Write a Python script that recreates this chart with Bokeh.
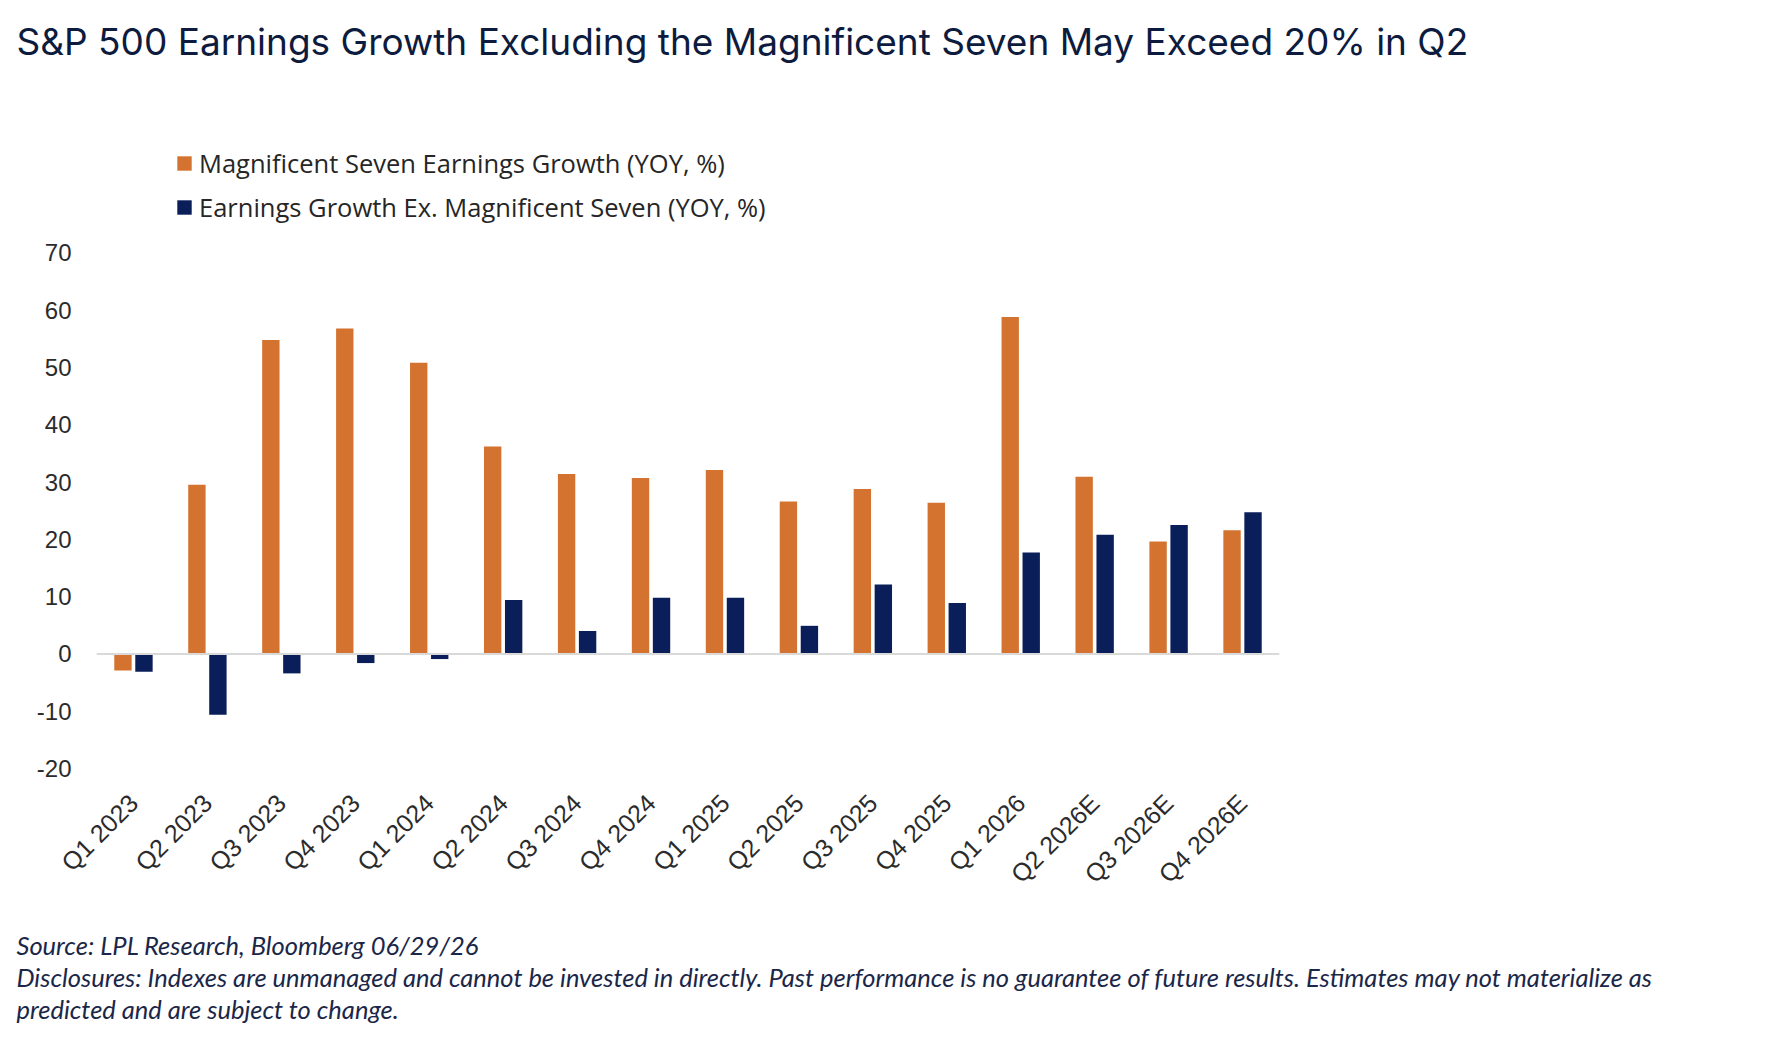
import math

from bokeh.embed import file_html
from bokeh.models import (ColumnDataSource, FactorRange, FixedTicker,
                          Legend, LegendItem, Range1d, Span, Title)
from bokeh.plotting import figure
from bokeh.resources import INLINE
from bokeh.transform import dodge

# ---- data -----------------------------------------------------------------
quarters = ["Q1 2023", "Q2 2023", "Q3 2023", "Q4 2023",
            "Q1 2024", "Q2 2024", "Q3 2024", "Q4 2024",
            "Q1 2025", "Q2 2025", "Q3 2025", "Q4 2025",
            "Q1 2026", "Q2 2026E", "Q3 2026E", "Q4 2026E"]

# Magnificent Seven earnings growth, YoY %
mag7_growth = [-2.9, 29.5, 54.8, 56.8, 50.8, 36.2, 31.4, 30.7,
               32.1, 26.6, 28.8, 26.4, 58.8, 30.9, 19.6, 21.6]

# S&P 500 earnings growth excluding the Magnificent Seven, YoY %
ex_mag7_growth = [-3.1, -10.6, -3.4, -1.6, -0.9, 9.4, 4.0, 9.8,
                  9.8, 4.9, 12.1, 8.9, 17.7, 20.8, 22.5, 24.7]

y_ticks = [-20, -10, 0, 10, 20, 30, 40, 50, 60, 70]
y_tick_labels = {t: str(t) for t in y_ticks}   # plain hyphen for negatives

series_labels = ["Magnificent Seven Earnings Growth (YOY, %)",
                 "Earnings Growth Ex. Magnificent Seven (YOY, %)"]

title_text = "S&P 500 Earnings Growth Excluding the Magnificent Seven May Exceed 20% in Q2"
notes = [
    "Source: LPL Research, Bloomberg 06/29/26",
    "Disclosures: Indexes are unmanaged and cannot be invested in directly. Past performance is no guarantee of future results. Estimates may not materialize as",
    "predicted and are subject to change.",
]

# ---- styling --------------------------------------------------------------
ORANGE = "#D47330"
NAVY = "#0A1E5A"
INK = "#0D1B3E"
AXIS_TEXT = "#2B2B2B"

W, H = 1778, 1052
FRAME_LEFT, FRAME_RIGHT = 96, 1279
FRAME_TOP, FRAME_BOTTOM = 120, 768
PX_PER_UNIT = 515.7 / 90.0          # -20 .. 70
Y_MIN = -20
Y_MAX = Y_MIN + (FRAME_BOTTOM - FRAME_TOP) / PX_PER_UNIT

source = ColumnDataSource(data=dict(q=quarters, mag7=mag7_growth, ex=ex_mag7_growth))

p = figure(
    width=W, height=H,
    x_range=FactorRange(factors=quarters, range_padding=0),
    y_range=Range1d(Y_MIN, Y_MAX),
    output_backend="svg", toolbar_location=None, title=None,
    min_border_left=FRAME_LEFT, min_border_right=W - FRAME_RIGHT,
    min_border_top=FRAME_TOP, min_border_bottom=H - FRAME_BOTTOM,
)
p.outline_line_color = None
p.background_fill_color = "white"
p.border_fill_color = "white"
p.xgrid.grid_line_color = None
p.ygrid.grid_line_color = None

bar_w = 0.235
r_mag = p.vbar(x=dodge("q", -0.142, range=p.x_range), top="mag7", width=bar_w,
               source=source, fill_color=ORANGE, line_color=None)
r_ex = p.vbar(x=dodge("q", 0.142, range=p.x_range), top="ex", width=bar_w,
              source=source, fill_color=NAVY, line_color=None)

# zero baseline
p.add_layout(Span(location=0, dimension="width", line_color="#D9D9D9", line_width=2))

# y axis
yax = p.yaxis[0]
yax.ticker = FixedTicker(ticks=y_ticks)
yax.major_label_overrides = y_tick_labels
yax.axis_line_color = None
yax.major_tick_line_color = None
yax.minor_tick_line_color = None
yax.major_label_standoff = 19
yax.major_label_text_font = "Liberation Sans"
yax.major_label_text_font_size = "24px"
yax.major_label_text_color = AXIS_TEXT

# x axis (category labels only)
xax = p.xaxis[0]
xax.axis_line_color = None
xax.major_tick_line_color = None
xax.minor_tick_line_color = None
xax.major_label_orientation = math.pi / 4
xax.major_label_standoff = 24
xax.major_label_text_font = "Liberation Sans"
xax.major_label_text_font_size = "25px"
xax.major_label_text_color = AXIS_TEXT

# legend
legend = Legend(
    items=[LegendItem(label=series_labels[0], renderers=[r_mag]),
           LegendItem(label=series_labels[1], renderers=[r_ex])],
    location=(79, 544),
    orientation="vertical",
    glyph_width=18, glyph_height=18,
    label_standoff=6, spacing=10, padding=0, margin=0,
    border_line_color=None, background_fill_alpha=0,
    label_text_font="Open Sans", label_text_font_size="25.5px",
    label_text_color="#262626",
)
p.add_layout(legend)


def gap(px):
    """An empty side-panel title used purely as vertical spacing."""
    return Title(text=" ", text_font_size="1px", standoff=px)


# headline: a spacer next to the frame pushes it up to the top of the page
p.add_layout(gap(42), "above")
p.add_layout(Title(text=title_text, align="left", offset=16 - FRAME_LEFT,
                   vertical_align="top", standoff=20,
                   text_font="Inter", text_font_size="37px",
                   text_font_style="normal", text_color=INK), "above")

# source and disclosure lines under the category labels
p.add_layout(gap(24), "below")
for line in notes:
    p.add_layout(Title(text=line, align="left", offset=16 - FRAME_LEFT,
                       vertical_align="bottom", standoff=0,
                       text_font="Lato", text_font_size="25.5px",
                       text_font_style="italic", text_color="#1B2748"), "below")

open("out.html", "w").write(file_html(p, INLINE))
